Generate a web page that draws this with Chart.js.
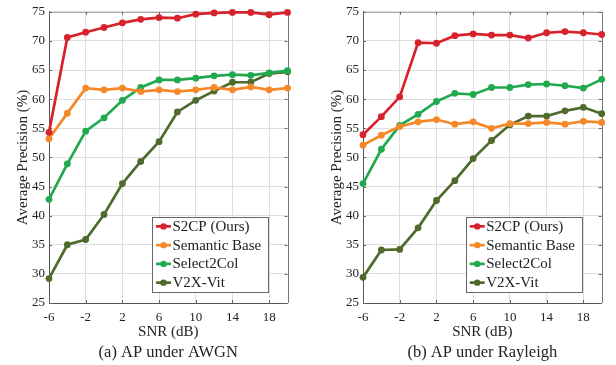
<!DOCTYPE html>
<html><head><meta charset="utf-8">
<script src="https://cdn.jsdelivr.net/npm/chart.js@4.4.1/dist/chart.umd.min.js"></script>
<style>
html,body{margin:0;padding:0;background:#fff;width:616px;height:365px;overflow:hidden}
.w{position:absolute;top:0;width:308px;height:365px}
</style></head><body>
<div class="w" style="left:0"><canvas id="a" width="308" height="365"></canvas></div>
<div class="w" style="left:308px"><canvas id="b" width="308" height="365"></canvas></div>
<script>
// ---- data ----
const snr = [-6,-4,-2,0,2,4,6,8,10,12,14,16,18,20];
const xTickLabels = [-6,-2,2,6,10,14,18];
const seriesNames = ['S2CP (Ours)','Semantic Base','Select2Col','V2X-Vit'];

const awgnS2CP     = [54.3,70.6,71.5,72.3,73.1,73.7,74.0,73.9,74.6,74.8,74.9,74.9,74.5,74.9];
const awgnSemantic = [53.2,57.6,61.9,61.6,61.9,61.3,61.6,61.3,61.6,62.0,61.6,62.1,61.6,61.9];
const awgnSelect   = [42.8,48.9,54.5,56.8,59.8,62.0,63.3,63.3,63.6,64.0,64.2,64.1,64.5,64.9];
const awgnV2X      = [29.2,35.0,35.9,40.2,45.5,49.3,52.7,57.8,59.8,61.4,62.9,62.9,64.4,64.7];

const rayS2CP      = [53.9,57.0,60.4,69.7,69.6,70.9,71.2,71.0,71.0,70.5,71.4,71.6,71.4,71.1];
const raySemantic  = [52.1,53.8,55.3,56.1,56.5,55.7,56.1,55.0,55.8,55.8,56.0,55.7,56.2,56.0];
const raySelect    = [45.5,51.4,55.5,57.4,59.6,61.0,60.8,62.0,62.0,62.5,62.6,62.3,61.9,63.4];
const rayV2X       = [29.4,34.1,34.2,37.9,42.6,46.0,49.8,52.9,55.6,57.1,57.1,58.0,58.6,57.5];

const yTitle = 'Average Precision (%)';
const xTitle = 'SNR (dB)';
const captionA = '(a) AP under AWGN';
const captionB = '(b) AP under Rayleigh';

// ---- style ----
const colors = ['#d8222b','#f5892a','#21a94f','#4e6b2d'];
const SERIF = "'Liberation Serif','Times New Roman',serif";
Chart.defaults.font.family = SERIF;
Chart.defaults.color = '#222';

function makeDatasets(arrs){
  return arrs.map((vals,i)=>({
    label: seriesNames[i],
    data: snr.map((x,j)=>({x:x,y:vals[j]})),
    borderColor: colors[i],
    backgroundColor: colors[i],
    pointBackgroundColor: colors[i],
    pointBorderColor: colors[i],
    borderWidth: 2.7,
    pointRadius: 3.4,
    pointBorderWidth: 0,
    tension: 0,
    clip: false
  }));
}

const deco = {
  id: 'deco',
  beforeDatasetsDraw(chart){
    const ctx = chart.ctx, a = chart.chartArea;
    const xs = chart.scales.x, ys = chart.scales.y;
    ctx.save();
    // frame top/right
    ctx.lineWidth = 1;
    ctx.strokeStyle = '#aaa';
    ctx.beginPath();
    ctx.moveTo(a.left, Math.round(a.top)+0.5);
    ctx.lineTo(Math.round(a.right)+0.5, Math.round(a.top)+0.5);
    ctx.stroke();
    ctx.strokeStyle = '#777';
    ctx.beginPath();
    ctx.moveTo(Math.round(a.right)+0.5, a.top);
    ctx.lineTo(Math.round(a.right)+0.5, a.bottom);
    ctx.stroke();
    // small inward tick marks (box style)
    ctx.strokeStyle = '#666';
    ctx.beginPath();
    xs.ticks.forEach(t => {
      const px = Math.round(xs.getPixelForValue(t.value)) + 0.5;
      ctx.moveTo(px, a.bottom); ctx.lineTo(px, a.bottom - 3);
      ctx.moveTo(px, a.top); ctx.lineTo(px, a.top + 3);
    });
    ys.ticks.forEach(t => {
      const py = Math.round(ys.getPixelForValue(t.value)) + 0.5;
      ctx.moveTo(a.left, py); ctx.lineTo(a.left + 3, py);
      ctx.moveTo(a.right, py); ctx.lineTo(a.right - 3, py);
    });
    ctx.stroke();
    ctx.restore();
  },
  afterDraw(chart, args, o){
    const ctx = chart.ctx, a = chart.chartArea;
    ctx.save();
    // y title
    ctx.fillStyle = '#222';
    ctx.font = '15px ' + SERIF;
    ctx.textAlign = 'center'; ctx.textBaseline = 'middle';
    ctx.save();
    ctx.translate(o.yTitleX, (a.top + a.bottom)/2);
    ctx.rotate(-Math.PI/2);
    ctx.fillText(yTitle, 0, 0);
    ctx.restore();
    // x title & caption
    const cx = (a.left + a.right)/2;
    ctx.fillText(xTitle, cx, 332);
    ctx.font = '16.5px ' + SERIF;
    ctx.fillText(o.caption, cx, 353);
    // legend
    const L = o.legend;
    ctx.fillStyle = '#fff';
    ctx.fillRect(L.x, L.y, L.w, L.h);
    ctx.strokeStyle = '#666'; ctx.lineWidth = 1;
    ctx.strokeRect(Math.round(L.x)+0.5, Math.round(L.y)+0.5, L.w, L.h);
    const rowH = L.h/4;
    ctx.font = '15px ' + SERIF;
    ctx.textAlign = 'left';
    chart.data.datasets.forEach((ds,i)=>{
      const y = L.y + rowH*(i+0.5);
      const x0 = L.x + 4, x1 = L.x + 19;
      ctx.strokeStyle = ds.borderColor; ctx.lineWidth = 2.7;
      ctx.beginPath(); ctx.moveTo(x0,y); ctx.lineTo(x1,y); ctx.stroke();
      ctx.fillStyle = ds.borderColor;
      ctx.beginPath(); ctx.arc((x0+x1)/2, y, 3.2, 0, Math.PI*2); ctx.fill();
      ctx.fillStyle = '#222';
      ctx.fillText(ds.label, x1 + 1.5, y + 0.5);
    });
    ctx.restore();
  }
};

function makeChart(id, arrs, yWidth, padRight, decoOpts){
  return new Chart(document.getElementById(id), {
    type: 'line',
    data: { datasets: makeDatasets(arrs) },
    options: {
      responsive: false,
      animation: false,
      layout: { padding: { left: 0, right: padRight, top: 10, bottom: 0 } },
      plugins: { legend: { display: false }, tooltip: { enabled: false }, deco: decoOpts },
      scales: {
        x: {
          type: 'linear', min: -6, max: 20,
          afterBuildTicks: s => { s.ticks = xTickLabels.map(v => ({ value: v })); },
          afterFit: s => { s.height = 62; },
          ticks: { font: { size: 13 }, color: '#222', padding: 7, maxRotation: 0, autoSkip: false,
                   callback: v => String(v) },
          grid: { color: '#dedede', lineWidth: 1, drawTicks: false },
          border: { color: '#555', width: 1 }
        },
        y: {
          min: 25, max: 75,
          afterFit: s => { s.width = yWidth; },
          ticks: { stepSize: 5, font: { size: 13 }, color: '#222', padding: 4 },
          grid: { color: '#dedede', lineWidth: 1, drawTicks: false },
          border: { color: '#555', width: 1 }
        }
      }
    },
    plugins: [deco]
  });
}

makeChart('a', [awgnS2CP, awgnSemantic, awgnSelect, awgnV2X], 49, 20.5,
  { yTitleX: 23, caption: captionA, legend: { x: 152, y: 217, w: 116, h: 75 } });
makeChart('b', [rayS2CP, raySemantic, raySelect, rayV2X], 55, 14.3,
  { yTitleX: 29, caption: captionB, legend: { x: 157.7, y: 217, w: 116, h: 75 } });
</script>
</body></html>
